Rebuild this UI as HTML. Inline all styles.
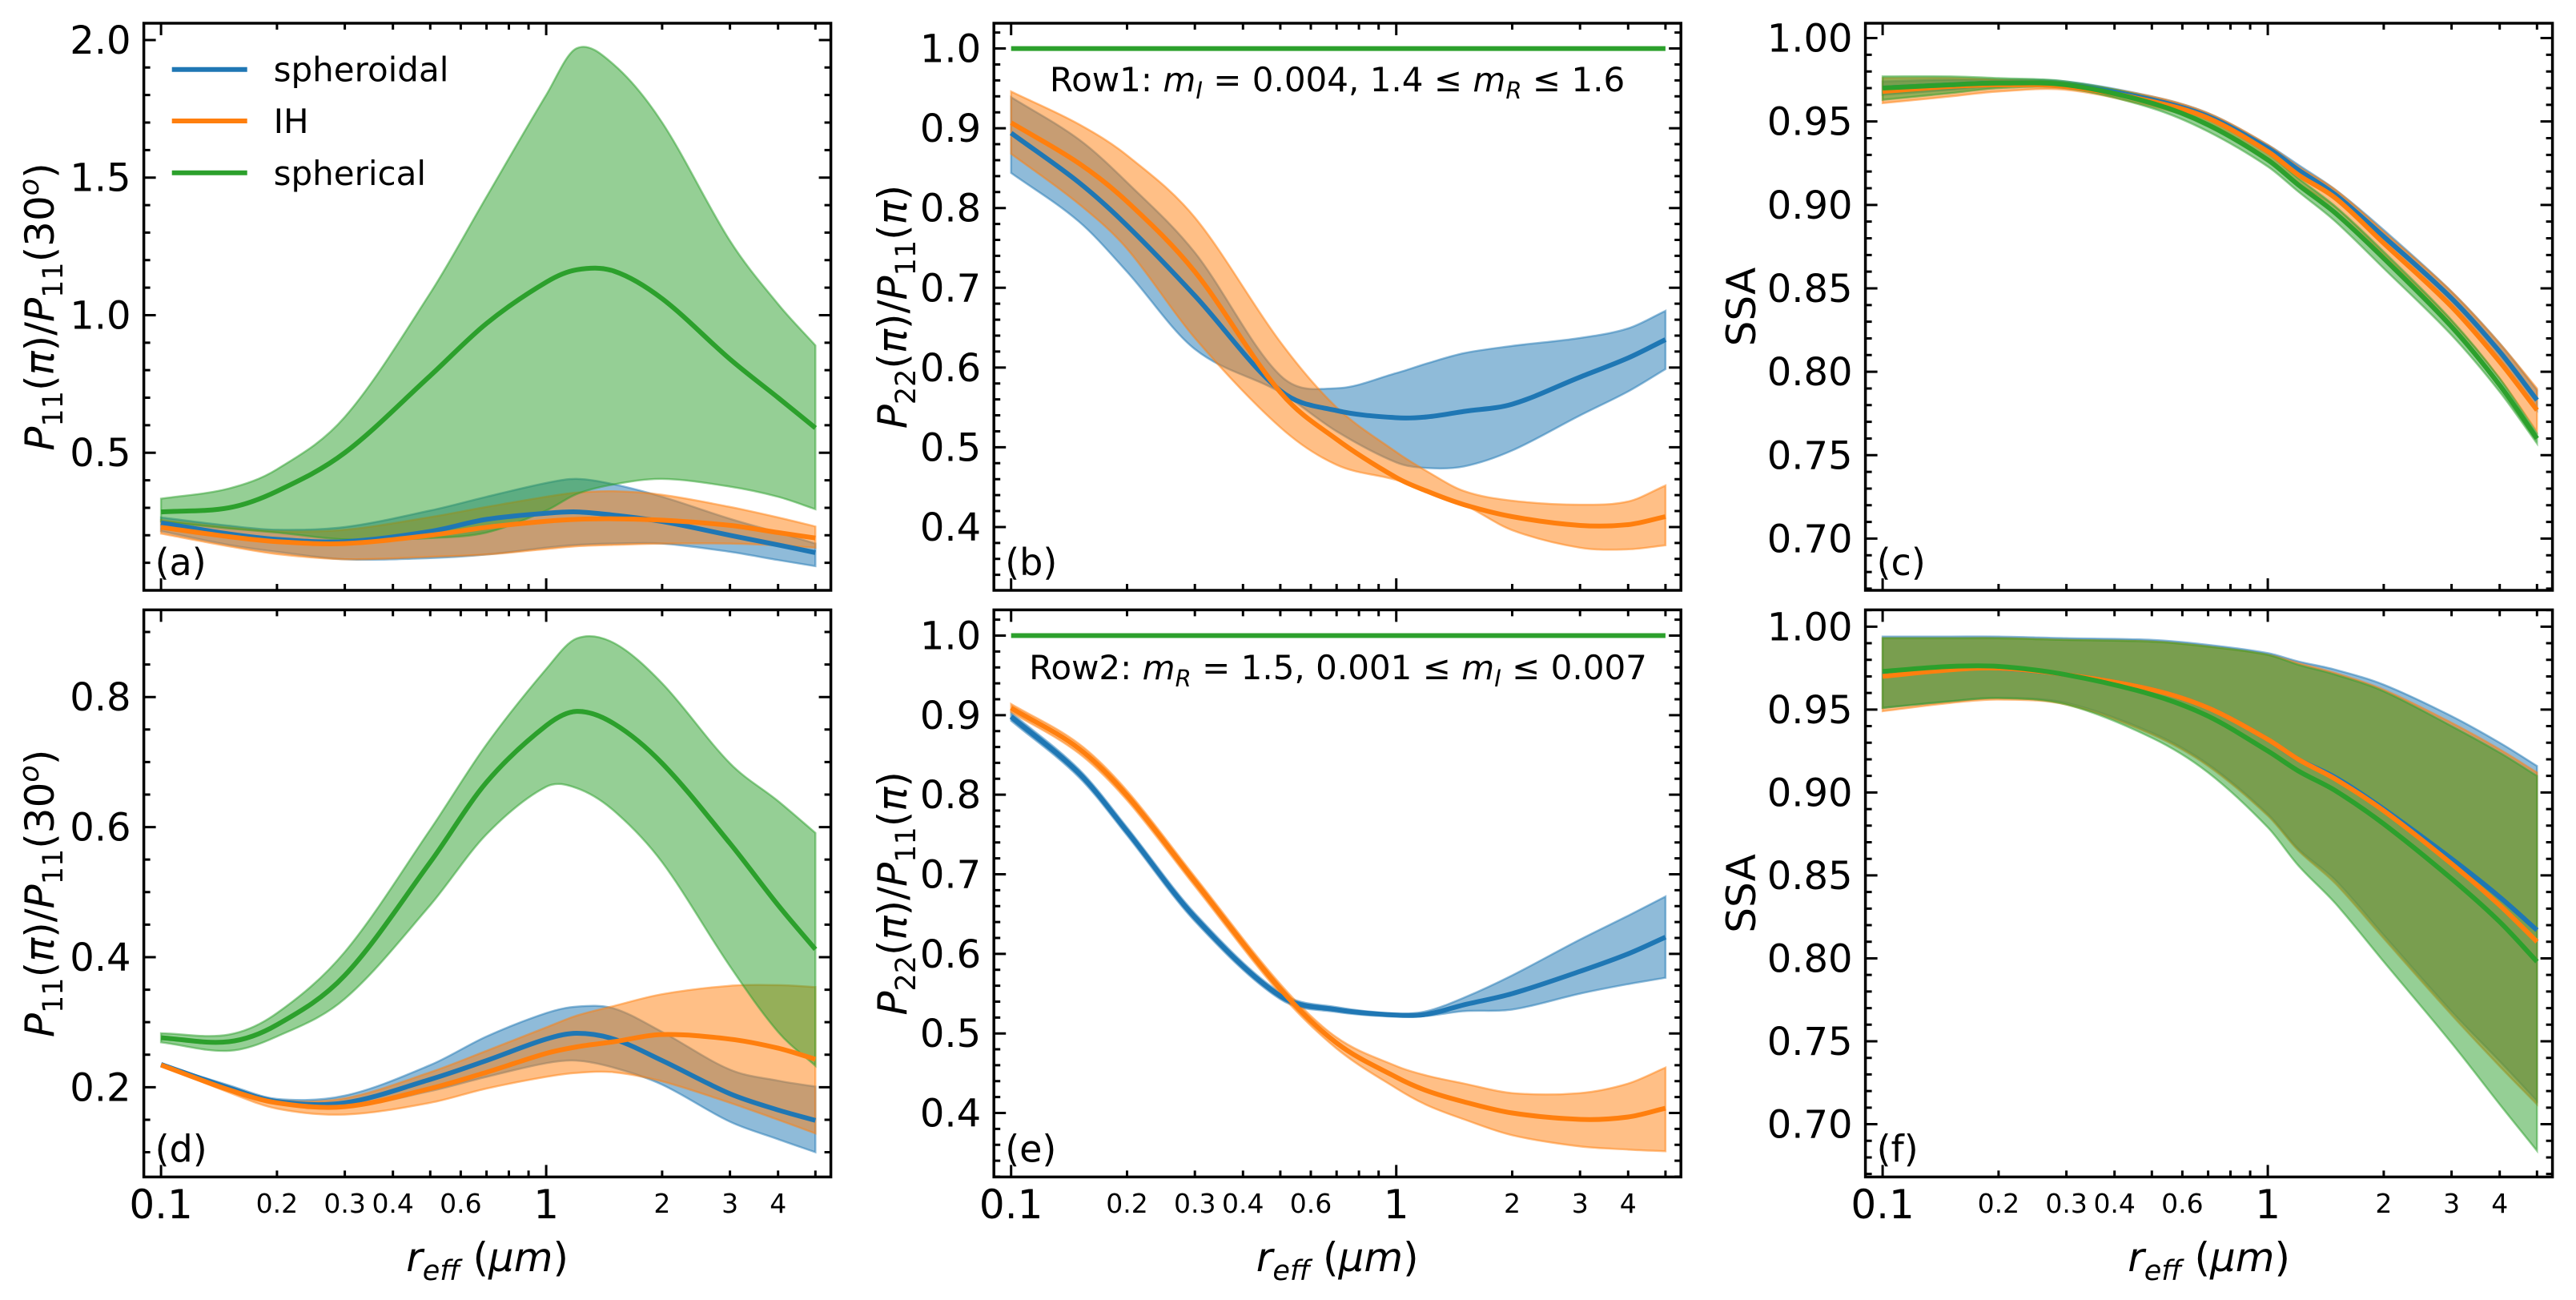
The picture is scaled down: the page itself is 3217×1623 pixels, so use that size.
<!DOCTYPE html>
<html><head><meta charset="utf-8">
<style>
html,body{margin:0;padding:0;background:#fff;}
svg{display:block;}
text{font-family:"DejaVu Sans","Liberation Sans",sans-serif;fill:#000;}
</style></head>
<body>
<svg id="fig" width="3217" height="1623" viewBox="0 0 3217 1623" xmlns="http://www.w3.org/2000/svg"></svg>
<script>
// ---- data ----
const xs = [0.1,0.15,0.2,0.3,0.5,0.7,1,1.2,1.5,2,3,4,5];
const xMajorTicks = [0.1,1];
const xMinorTicks = [0.2,0.3,0.4,0.5,0.6,0.7,0.8,0.9,2,3,4,5];
const xMinorLabels = ["0.2","0.3","0.4","0.6","2","3","4"];
const xMinorLabelVals = [0.2,0.3,0.4,0.6,2,3,4];
const seriesNames = ["spheroidal","IH","spherical"];

// panel a
const aGreenMean=[0.285,0.30,0.36,0.50,0.78,0.97,1.12,1.165,1.16,1.06,0.84,0.70,0.59];
const aGreenUp=[0.333,0.37,0.44,0.63,1.08,1.43,1.80,1.97,1.91,1.70,1.27,1.04,0.89];
const aGreenLo=[0.25,0.225,0.21,0.185,0.19,0.21,0.29,0.35,0.385,0.405,0.377,0.34,0.295];
const aBlueMean=[0.245,0.205,0.185,0.177,0.214,0.258,0.28,0.285,0.273,0.25,0.20,0.165,0.137];
const aBlueUp=[0.265,0.235,0.22,0.23,0.29,0.34,0.39,0.405,0.385,0.34,0.26,0.21,0.17];
const aBlueLo=[0.215,0.165,0.14,0.113,0.117,0.13,0.155,0.165,0.17,0.17,0.14,0.11,0.088];
const aOrMean=[0.229,0.195,0.177,0.17,0.20,0.229,0.251,0.258,0.26,0.255,0.236,0.21,0.19];
const aOrUp=[0.255,0.228,0.214,0.22,0.266,0.303,0.34,0.355,0.36,0.347,0.303,0.265,0.232];
const aOrLo=[0.206,0.16,0.132,0.113,0.122,0.13,0.15,0.16,0.165,0.17,0.17,0.163,0.155];
// panel b
const bBlueMean=[0.894,0.832,0.778,0.69,0.571,0.546,0.537,0.538,0.545,0.554,0.588,0.612,0.635];
const bBlueUp=[0.939,0.886,0.832,0.744,0.59,0.574,0.593,0.605,0.618,0.627,0.637,0.649,0.671];
const bBlueLo=[0.844,0.783,0.72,0.623,0.569,0.52,0.481,0.474,0.476,0.496,0.54,0.57,0.598];
const bOrMean=[0.907,0.856,0.808,0.72,0.569,0.51,0.462,0.445,0.428,0.413,0.402,0.403,0.413];
const bOrUp=[0.946,0.905,0.866,0.788,0.632,0.55,0.494,0.47,0.445,0.433,0.428,0.432,0.452];
const bOrLo=[0.868,0.805,0.749,0.637,0.525,0.478,0.459,0.445,0.428,0.396,0.374,0.372,0.377];
const bGreen=[1,1,1,1,1,1,1,1,1,1,1,1,1];
// panel c
const cBlueMean=[0.97,0.972,0.973,0.972,0.963,0.953,0.934,0.921,0.906,0.881,0.844,0.812,0.783];
const cBlueUp=[0.974,0.975,0.975,0.974,0.965,0.955,0.936,0.924,0.909,0.885,0.848,0.817,0.789];
const cBlueLo=[0.966,0.969,0.971,0.970,0.961,0.951,0.931,0.918,0.903,0.877,0.840,0.807,0.777];
const cOrMean=[0.968,0.971,0.972,0.971,0.962,0.952,0.932,0.918,0.904,0.877,0.839,0.806,0.777];
const cOrUp=[0.976,0.976,0.975,0.973,0.965,0.955,0.936,0.923,0.909,0.884,0.848,0.817,0.79];
const cOrLo=[0.961,0.965,0.968,0.969,0.959,0.949,0.928,0.913,0.898,0.870,0.830,0.796,0.764];
const cGreenMean=[0.97,0.972,0.973,0.972,0.961,0.948,0.927,0.912,0.895,0.868,0.827,0.792,0.76];
const cGreenUp=[0.977,0.977,0.976,0.974,0.964,0.952,0.931,0.916,0.899,0.872,0.831,0.796,0.763];
const cGreenLo=[0.963,0.967,0.970,0.970,0.958,0.944,0.923,0.908,0.890,0.862,0.822,0.788,0.757];
// panel d
const dGreenMean=[0.276,0.27,0.296,0.372,0.546,0.669,0.756,0.778,0.759,0.698,0.575,0.48,0.412];
const dGreenUp=[0.283,0.281,0.314,0.408,0.596,0.727,0.843,0.89,0.883,0.821,0.698,0.64,0.591];
const dGreenLo=[0.269,0.256,0.278,0.336,0.48,0.589,0.662,0.66,0.625,0.546,0.386,0.285,0.233];
const dBlueMean=[0.235,0.199,0.178,0.176,0.212,0.241,0.274,0.283,0.274,0.241,0.19,0.165,0.149];
const dBlueUp=[0.235,0.203,0.182,0.187,0.234,0.278,0.314,0.324,0.321,0.285,0.227,0.21,0.201];
const dBlueLo=[0.235,0.195,0.175,0.169,0.194,0.216,0.237,0.241,0.23,0.204,0.147,0.12,0.1];
const dOrMean=[0.234,0.196,0.176,0.17,0.198,0.223,0.252,0.262,0.27,0.281,0.274,0.26,0.243];
const dOrUp=[0.234,0.2,0.18,0.183,0.223,0.256,0.292,0.31,0.325,0.343,0.356,0.357,0.354];
const dOrLo=[0.234,0.192,0.167,0.158,0.176,0.198,0.216,0.222,0.223,0.209,0.176,0.15,0.129];
// panel e
const eBlueMean=[0.898,0.827,0.754,0.646,0.547,0.530,0.523,0.524,0.536,0.55,0.578,0.60,0.621];
const eBlueUp=[0.903,0.832,0.759,0.651,0.551,0.533,0.525,0.528,0.545,0.573,0.618,0.648,0.672];
const eBlueLo=[0.893,0.822,0.749,0.641,0.543,0.527,0.521,0.522,0.528,0.53,0.55,0.562,0.57];
const eOrMean=[0.909,0.858,0.799,0.691,0.556,0.488,0.445,0.428,0.414,0.4,0.392,0.395,0.406];
const eOrUp=[0.914,0.864,0.805,0.697,0.562,0.495,0.459,0.447,0.437,0.425,0.425,0.437,0.457];
const eOrLo=[0.904,0.852,0.793,0.685,0.550,0.481,0.431,0.41,0.392,0.372,0.358,0.354,0.352];
const eGreen=[1,1,1,1,1,1,1,1,1,1,1,1,1];
// panel f
const fBlueMean=[0.971,0.975,0.975,0.971,0.962,0.951,0.932,0.92,0.909,0.89,0.86,0.837,0.817];
const fBlueUp=[0.994,0.994,0.994,0.993,0.992,0.989,0.984,0.979,0.974,0.965,0.946,0.93,0.916];
const fBlueLo=[0.951,0.955,0.957,0.954,0.936,0.917,0.887,0.866,0.847,0.814,0.768,0.738,0.714];
const fOrMean=[0.970,0.974,0.975,0.971,0.962,0.951,0.932,0.92,0.908,0.889,0.857,0.832,0.81];
const fOrUp=[0.993,0.993,0.993,0.992,0.991,0.988,0.983,0.978,0.972,0.962,0.942,0.926,0.912];
const fOrLo=[0.949,0.954,0.956,0.953,0.935,0.916,0.886,0.865,0.845,0.812,0.766,0.735,0.712];
const fGreenMean=[0.973,0.976,0.976,0.971,0.959,0.946,0.925,0.913,0.901,0.881,0.848,0.822,0.798];
const fGreenUp=[0.993,0.993,0.993,0.992,0.991,0.988,0.983,0.977,0.971,0.961,0.94,0.924,0.91];
const fGreenLo=[0.951,0.955,0.957,0.953,0.933,0.912,0.879,0.856,0.833,0.798,0.749,0.712,0.684];

const C = {blue:"#1f77b4", orange:"#ff7f0e", green:"#2ca02c"};
const NS = "http://www.w3.org/2000/svg";
const svg = document.getElementById("fig");
function mk(tag, attrs, parent){
  const e = document.createElementNS(NS, tag);
  for (const k in attrs) e.setAttribute(k, attrs[k]);
  (parent||svg).appendChild(e);
  return e;
}

const colLeft = [179.6, 1241.2, 2329.6];
const rowTop = [29, 761.4];
const PW = 858, PH = 708;

const panels = [
 {id:"a",col:0,row:0,ylo:0.0,yhi:2.061,major:[0.5,1.0,1.5,2.0],fmt:1,minorStep:0.1,
  series:[["blue",aBlueMean,aBlueUp,aBlueLo],["orange",aOrMean,aOrUp,aOrLo],["green",aGreenMean,aGreenUp,aGreenLo]]},
 {id:"b",col:1,row:0,ylo:0.3206,yhi:1.0317,major:[0.4,0.5,0.6,0.7,0.8,0.9,1.0],fmt:1,minorStep:0.02,
  series:[["blue",bBlueMean,bBlueUp,bBlueLo],["orange",bOrMean,bOrUp,bOrLo],["green",bGreen,null,null]]},
 {id:"c",col:2,row:0,ylo:0.669,yhi:1.0089,major:[0.70,0.75,0.80,0.85,0.90,0.95,1.00],fmt:2,minorStep:0.01,
  series:[["blue",cBlueMean,cBlueUp,cBlueLo],["orange",cOrMean,cOrUp,cOrLo],["green",cGreenMean,cGreenUp,cGreenLo]]},
 {id:"d",col:0,row:1,ylo:0.062,yhi:0.934,major:[0.2,0.4,0.6,0.8],fmt:1,minorStep:0.05,
  series:[["blue",dBlueMean,dBlueUp,dBlueLo],["orange",dOrMean,dOrUp,dOrLo],["green",dGreenMean,dGreenUp,dGreenLo]]},
 {id:"e",col:1,row:1,ylo:0.3196,yhi:1.0323,major:[0.4,0.5,0.6,0.7,0.8,0.9,1.0],fmt:1,minorStep:0.02,
  series:[["blue",eBlueMean,eBlueUp,eBlueLo],["orange",eOrMean,eOrUp,eOrLo],["green",eGreen,null,null]]},
 {id:"f",col:2,row:1,ylo:0.6682,yhi:1.0101,major:[0.70,0.75,0.80,0.85,0.90,0.95,1.00],fmt:2,minorStep:0.01,
  series:[["blue",fBlueMean,fBlueUp,fBlueLo],["orange",fOrMean,fOrUp,fOrLo],["green",fGreenMean,fGreenUp,fGreenLo]]}
];

// non-uniform cubic Hermite through points (x increasing or decreasing)
function smoothPath(pts, moveFirst){
  const n = pts.length;
  const m = pts.map((p,i)=>{
    const a = pts[Math.max(0,i-1)], b = pts[Math.min(n-1,i+1)];
    return (b[1]-a[1])/(b[0]-a[0]);
  });
  let d = (moveFirst?"M":"L") + pts[0][0].toFixed(1)+","+pts[0][1].toFixed(1);
  for (let i=0;i<n-1;i++){
    const p1=pts[i], p2=pts[i+1], h=(p2[0]-p1[0])/3;
    const c1=[p1[0]+h, p1[1]+m[i]*h];
    const c2=[p2[0]-h, p2[1]-m[i+1]*h];
    d += "C"+c1[0].toFixed(1)+","+c1[1].toFixed(1)+" "+c2[0].toFixed(1)+","+c2[1].toFixed(1)+" "+p2[0].toFixed(1)+","+p2[1].toFixed(1);
  }
  return d;
}

panels.forEach(p=>{
  const L = colLeft[p.col], T = rowTop[p.row], B = T+PH, R = L+PW;
  const xAt = v => L + 21.5 + 481*Math.log10(v/0.1);
  const yAt = v => B - (v - p.ylo)/(p.yhi - p.ylo)*PH;
  const g = mk("g", {});
  
  
  const clipId = "clip"+p.id;
  const cp = mk("clipPath",{id:clipId},g);
  mk("rect",{x:L,y:T,width:PW,height:PH},cp);
  const plot = mk("g",{"clip-path":"url(#"+clipId+")"},g);
  p.series.forEach(s=>{
    if(!s[2]) return;
    const up = xs.map((x,i)=>[xAt(x),yAt(s[2][i])]);
    const lo = xs.map((x,i)=>[xAt(x),yAt(s[3][i])]).reverse();
    const d = smoothPath(up,true) + smoothPath(lo,false) + "Z";
    const band = mk("path",{d:d,fill:C[s[0]],"fill-opacity":0.5,stroke:C[s[0]],"stroke-opacity":0.5,"stroke-width":2.5},plot);
    
    
  });
  p.series.forEach(s=>{
    const pts = xs.map((x,i)=>[xAt(x),yAt(s[1][i])]);
    const ln = mk("path",{d:smoothPath(pts,true),fill:"none",stroke:C[s[0]],"stroke-width":6,"stroke-linecap":"butt"},plot);
    
    
  });
  let td = "";
  xMajorTicks.forEach(v=>{const x=xAt(v); td+=`M${x},${B}v-15M${x},${T}v15`;});
  xMinorTicks.forEach(v=>{const x=xAt(v); td+=`M${x},${B}v-8M${x},${T}v8`;});
  p.major.forEach(v=>{const y=yAt(v); td+=`M${L},${y}h15M${R},${y}h-15`;});
  const n0 = Math.ceil(p.ylo/p.minorStep-1e-6), n1=Math.floor(p.yhi/p.minorStep+1e-6);
  for(let n=n0;n<=n1;n++){const y=yAt(n*p.minorStep); td+=`M${L},${y}h8M${R},${y}h-8`;}
  const ticks = mk("path",{d:td,stroke:"#000","stroke-width":3,fill:"none"},g);
  
  
  const frame = mk("rect",{x:L,y:T,width:PW,height:PH,fill:"none",stroke:"#000","stroke-width":3.5},g);
  
  
  p.major.forEach(v=>{
    const t = mk("text",{x:L-16,y:yAt(v)+17,"text-anchor":"end","font-size":48},g);
    t.textContent = v.toFixed(p.fmt);
    
    
  });
  if(p.row===1){
    xMajorTicks.forEach(v=>{
      const t = mk("text",{x:xAt(v),y:1521,"text-anchor":"middle","font-size":50},g);
      t.textContent = String(v);
      
      
    });
    xMinorLabelVals.forEach((v,i)=>{
      const t = mk("text",{x:xAt(v),y:1514,"text-anchor":"middle","font-size":33},g);
      t.textContent = xMinorLabels[i];
      
      
    });
    const xl = mk("text",{x:L+PW/2,y:1587,"text-anchor":"middle","font-size":50},g);
    xl.innerHTML = '<tspan font-style="italic">r</tspan><tspan font-style="italic" font-size="35" dy="11">eff</tspan><tspan dy="-11"> (</tspan><tspan font-style="italic">μm</tspan><tspan>)</tspan>';
    
    
  }
  const pl = mk("text",{x:L+14,y:B-19,"font-size":46},g);
  pl.textContent = "("+p.id+")";
  
  
  const cy = T+PH/2;
  const yx = [49,1114,2174][p.col]+18;
  const yl = mk("text",{x:yx,y:cy,"text-anchor":"middle","font-size":50,transform:`rotate(-90 ${yx} ${cy})`},g);
  if(p.col===0) yl.innerHTML='<tspan font-style="italic">P</tspan><tspan font-size="35" dy="11">11</tspan><tspan dy="-11">(</tspan><tspan font-style="italic">π</tspan><tspan>)/</tspan><tspan font-style="italic">P</tspan><tspan font-size="35" dy="11">11</tspan><tspan dy="-11">(30</tspan><tspan font-style="italic" font-size="35" dy="-19">o</tspan><tspan dy="19">)</tspan>';
  else if(p.col===1) yl.innerHTML='<tspan font-style="italic">P</tspan><tspan font-size="35" dy="11">22</tspan><tspan dy="-11">(</tspan><tspan font-style="italic">π</tspan><tspan>)/</tspan><tspan font-style="italic">P</tspan><tspan font-size="35" dy="11">11</tspan><tspan dy="-11">(</tspan><tspan font-style="italic">π</tspan><tspan>)</tspan>';
  else yl.textContent="SSA";
  
  
});

const an1 = mk("text",{x:1670,y:114,"text-anchor":"middle","font-size":42});
an1.innerHTML='Row1: <tspan font-style="italic">m</tspan><tspan font-style="italic" font-size="29" dy="9">I</tspan><tspan dy="-9"> = 0.004, 1.4 ≤ </tspan><tspan font-style="italic">m</tspan><tspan font-style="italic" font-size="29" dy="9">R</tspan><tspan dy="-9"> ≤ 1.6</tspan>';


const an2 = mk("text",{x:1671,y:848,"text-anchor":"middle","font-size":42});
an2.innerHTML='Row2: <tspan font-style="italic">m</tspan><tspan font-style="italic" font-size="29" dy="9">R</tspan><tspan dy="-9"> = 1.5, 0.001 ≤ </tspan><tspan font-style="italic">m</tspan><tspan font-style="italic" font-size="29" dy="9">I</tspan><tspan dy="-9"> ≤ 0.007</tspan>';



const legY = [86.7,151,215.8];
const legC = ["blue","orange","green"];
seriesNames.forEach((n,i)=>{
  const lg = mk("g",{});
  
  
  mk("line",{x1:214.7,x2:308.7,y1:legY[i],y2:legY[i],stroke:C[legC[i]],"stroke-width":6},lg);
  const t = mk("text",{x:341.6,y:legY[i]+15,"font-size":42},lg);
  t.textContent = n;
});
</script>
</body></html>
